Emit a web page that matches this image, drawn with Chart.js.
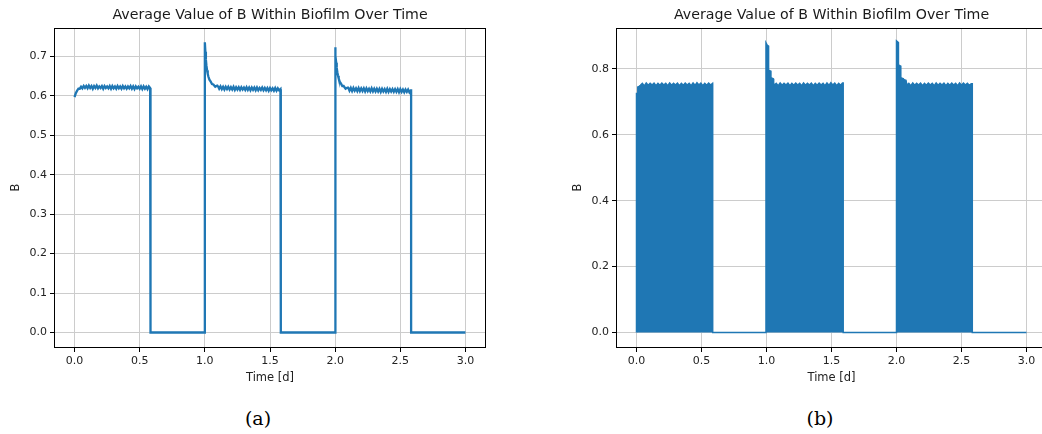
<!DOCTYPE html>
<html><head><meta charset="utf-8">
<script src="https://cdn.jsdelivr.net/npm/chart.js@4.4.0/dist/chart.umd.min.js"></script>
<style>
html,body{margin:0;padding:0;overflow:hidden;background:#fff;width:1042px;height:434px;}
#wa{position:absolute;left:0;top:0;width:520px;height:400px;}
#wb{position:absolute;left:520px;top:0;width:540px;height:400px;}
.cap{position:absolute;top:407px;line-height:22px;font-family:"DejaVu Serif",serif;font-size:19px;color:#000;transform:translateX(-50%);white-space:nowrap;}
</style></head><body>
<div id="wa"><canvas id="ca" width="520" height="400"></canvas></div>
<div id="wb"><canvas id="cb" width="540" height="400"></canvas></div>
<div class="cap" style="left:258px">(a)</div>
<div class="cap" style="left:820px">(b)</div>
<script>
// ---------- shared text / ticks ----------
const titleText = 'Average Value of B Within Biofilm Over Time';
const xLabel = 'Time [d]';
const yLabel = 'B';
const xTickValues = [0, 0.5, 1.0, 1.5, 2.0, 2.5, 3.0];
const yTicksA = [0, 0.1, 0.2, 0.3, 0.4, 0.5, 0.6, 0.7];
const yTicksB = [0, 0.2, 0.4, 0.6, 0.8];
const onTimes = [0, 1.0, 2.0];
const offTimes = [0.583, 1.583, 2.583];
const endTime = 3.0;

// ---------- chart (a): average B, sampled every 0.01 d on plateaus ----------
const plateauA1 = [
0.597,0.607,0.613,0.618,0.618,0.623,0.619,0.625,0.620,0.625,
0.619,0.626,0.620,0.625,0.618,0.625,0.620,0.626,0.619,0.624,
0.620,0.625,0.618,0.625,0.620,0.624,0.619,0.625,0.618,0.625,
0.619,0.624,0.618,0.625,0.619,0.624,0.618,0.625,0.619,0.624,
0.618,0.624,0.619,0.625,0.618,0.624,0.617,0.624,0.619,0.623,
0.618,0.624,0.617,0.624,0.618,0.623,0.617,0.624,0.620];
const onsetA2T = [1.0,1.004,1.008,1.012,1.017,1.022,1.027,1.035,1.045,1.055,1.065,1.08,1.095];
const onsetA2V = [0.736,0.712,0.692,0.677,0.665,0.656,0.649,0.641,0.636,0.630,0.629,0.623,0.626];
const plateauA2 = [
0.625,0.618,0.624,0.617,0.623,0.616,0.623,0.617,0.623,0.616,
0.622,0.616,0.623,0.615,0.622,0.616,0.622,0.615,0.622,0.616,
0.621,0.615,0.622,0.615,0.621,0.614,0.621,0.615,0.621,0.614,
0.621,0.614,0.620,0.615,0.621,0.614,0.620,0.614,0.620,0.613,
0.620,0.614,0.619,0.613,0.620,0.613,0.619,0.614,0.617];
const onsetA3T = [2.0,2.004,2.008,2.012,2.017,2.022,2.027,2.035,2.045,2.055,2.065,2.08,2.095];
const onsetA3V = [0.723,0.701,0.684,0.671,0.660,0.651,0.644,0.636,0.631,0.625,0.625,0.618,0.621];
const plateauA3 = [
0.621,0.613,0.620,0.612,0.620,0.613,0.619,0.612,0.620,0.612,
0.619,0.612,0.619,0.611,0.619,0.612,0.618,0.611,0.619,0.611,
0.618,0.611,0.618,0.611,0.618,0.610,0.618,0.611,0.617,0.610,
0.618,0.610,0.617,0.611,0.617,0.610,0.617,0.610,0.617,0.609,
0.617,0.610,0.616,0.609,0.616,0.610,0.616,0.609,0.614];
const plateauStartA = [0, 1.10, 2.10];
const stepA = 0.01;

// ---------- chart (b): peak envelope of B, every 0.015 d on plateaus ----------
const onsetB1T = [0, 0, 0.008, 0.010, 0.020];
const onsetB1V = [0, 0.725, 0.725, 0.745, 0.747];
const plateauB1 = [
0.750,0.756,0.748,0.757,0.750,0.756,0.751,0.757,0.749,0.756,
0.750,0.757,0.751,0.756,0.749,0.757,0.750,0.756,0.751,0.757,
0.749,0.756,0.750,0.757,0.751,0.756,0.749,0.757,0.750,0.758,
0.751,0.757,0.749,0.756,0.750,0.757,0.751,0.756];
const onsetB2T = [0.996,0.996,1.005,1.016,1.016,1.034,1.034,1.052,1.055];
const onsetB2V = [0,0.879,0.872,0.869,0.796,0.793,0.773,0.770,0.757];
const plateauB2 = [
0.750,0.756,0.749,0.757,0.750,0.756,0.751,0.757,0.749,0.756,
0.750,0.757,0.751,0.756,0.749,0.757,0.750,0.756,0.751,0.757,
0.749,0.756,0.750,0.757,0.751,0.756,0.749,0.757,0.750,0.758,
0.751,0.757,0.749,0.756,0.750,0.757];
const onsetB3T = [2.0,2.0,2.015,2.015,2.033,2.033,2.053,2.053,2.073];
const onsetB3V = [0,0.885,0.880,0.812,0.808,0.773,0.770,0.768,0.765];
const plateauB3 = [
0.750,0.756,0.749,0.757,0.750,0.756,0.751,0.757,0.749,0.756,
0.750,0.757,0.751,0.756,0.749,0.757,0.750,0.756,0.751,0.757,
0.749,0.756,0.750,0.757,0.751,0.756,0.749,0.757,0.750,0.757,
0.751,0.756,0.750,0.755];
const plateauStartB = [0.03, 1.06, 2.08];
const stepB = 0.015;
const offTimesB = [0.586, 1.59, 2.583];

// ---------- builders ----------
const seq = (t0, dt, vals) => vals.map((v, i) => ({x: t0 + i * dt, y: v}));
const pairs = (ts, vs) => ts.map((t, i) => ({x: t, y: vs[i]}));

const ptsA = [];
const onsA = [null, pairs(onsetA2T, onsetA2V), pairs(onsetA3T, onsetA3V)];
const platA = [plateauA1, plateauA2, plateauA3];
for (let k = 0; k < 3; k++) {
  if (onsA[k]) { ptsA.push({x: onTimes[k], y: 0}); ptsA.push(...onsA[k]); }
  ptsA.push(...seq(plateauStartA[k], stepA, platA[k]));
  ptsA.push({x: offTimes[k], y: platA[k][platA[k].length - 1]});
  ptsA.push({x: offTimes[k], y: 0});
}
ptsA.push({x: endTime, y: 0});

const ptsB = [];
const onsB = [pairs(onsetB1T, onsetB1V), pairs(onsetB2T, onsetB2V), pairs(onsetB3T, onsetB3V)];
const platB = [plateauB1, plateauB2, plateauB3];
for (let k = 0; k < 3; k++) {
  ptsB.push(...onsB[k]);
  ptsB.push(...seq(plateauStartB[k], stepB, platB[k]));
  ptsB.push({x: offTimesB[k], y: platB[k][platB[k].length - 1]});
  ptsB.push({x: offTimesB[k], y: 0});
}
ptsB.push({x: endTime, y: 0});

// ---------- plugin: frame + title ----------
const frame = {
  id: 'frame',
  afterDatasetsDraw(chart) {
    const {ctx, chartArea: a} = chart;
    ctx.save();
    ctx.strokeStyle = '#000';
    ctx.lineWidth = 1;
    ctx.strokeRect(Math.round(a.left) - 0.5, Math.round(a.top) + 0.5,
                   Math.round(a.right - a.left) + 1, Math.round(a.bottom - a.top));
    ctx.restore();
  },
  afterDraw(chart) {
    const {ctx, chartArea: a} = chart;
    ctx.save();
    ctx.fillStyle = '#1a1a1a';
    ctx.font = '14.2px "DejaVu Sans"';
    ctx.textAlign = 'center';
    ctx.textBaseline = 'middle';
    ctx.fillText(titleText, (a.left + a.right) / 2, 15);
    ctx.restore();
  }
};

const FONT = '"DejaVu Sans"';
function makeChart(id, pts, cfg) {
  return new Chart(document.getElementById(id), {
    type: 'line',
    data: {datasets: [{
      data: pts, parsing: false,
      borderColor: '#1f77b4', backgroundColor: '#1f77b4',
      borderWidth: cfg.lw, pointRadius: 0, tension: 0,
      fill: cfg.fill ? 'origin' : false
    }]},
    options: {
      responsive: false, animation: false, devicePixelRatio: 1,
      layout: {padding: {left: 0, right: cfg.padRight, top: 28, bottom: 0}},
      plugins: {legend: {display: false}, tooltip: {enabled: false}, title: {display: false}},
      scales: {
        x: {
          type: 'linear', min: -0.15, max: 3.15,
          afterBuildTicks: s => { s.ticks = xTickValues.map(v => ({value: v})); },
          afterFit: s => { s.height = 53; },
          border: {display: false},
          grid: {color: '#cccccc', lineWidth: 1, tickColor: '#000', tickLength: 5, tickWidth: 1},
          ticks: {autoSkip: false, maxRotation: 0, padding: 3, color: '#222',
                  font: {family: FONT, size: 11}, callback: v => Number(v).toFixed(1)},
          title: {display: true, text: xLabel, color: '#222', font: {family: FONT, size: 11.5},
                  padding: {top: 0, bottom: 15}}
        },
        y: {
          type: 'linear', min: cfg.ymin, max: cfg.ymax,
          afterBuildTicks: s => { s.ticks = cfg.yTicks.map(v => ({value: v})); },
          afterFit: s => { s.width = cfg.yw; },
          border: {display: false},
          grid: {color: '#cccccc', lineWidth: 1, tickColor: '#000', tickLength: 5, tickWidth: 1},
          ticks: {autoSkip: false, padding: 3, color: '#222',
                  font: {family: FONT, size: 11}, callback: v => Number(v).toFixed(1)},
          title: {display: true, text: yLabel, color: '#222', font: {family: FONT, size: 11.5},
                  padding: {top: cfg.ytitlePad, bottom: 0}}
        }
      }
    },
    plugins: [frame]
  });
}

makeChart('ca', ptsA, {lw: 2.3, fill: false, padRight: 35, ymin: -0.0368, ymax: 0.772,
                       yTicks: yTicksA, yw: 55, ytitlePad: 9});
makeChart('cb', ptsB, {lw: 1.5, fill: true, padRight: 14, ymin: -0.044, ymax: 0.924,
                       yTicks: yTicksB, yw: 97, ytitlePad: 51});
</script>
</body></html>
